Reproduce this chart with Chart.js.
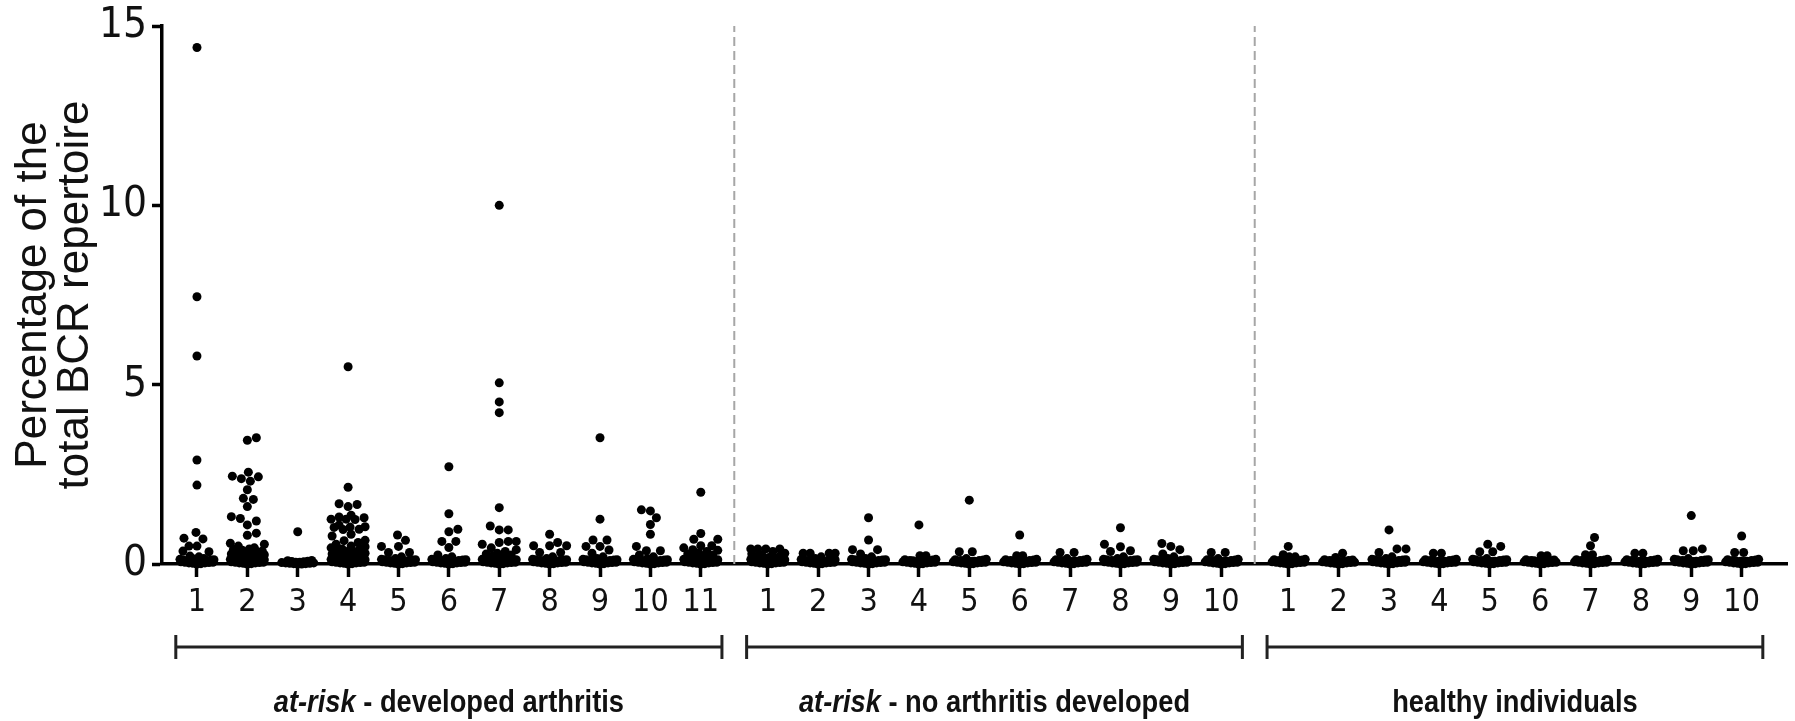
<!DOCTYPE html>
<html>
<head>
<meta charset="utf-8">
<script src="https://cdn.jsdelivr.net/npm/chart.js@4.4.1/dist/chart.umd.min.js"></script>
<style>
  html, body { margin: 0; padding: 0; background: #fff; }
</style>
</head>
<body>
<canvas id="bcrChart" width="1795" height="721"></canvas>
<script>
// -------------------------------
// Data (percentage of total BCR repertoire per clone, per subject)
// -------------------------------
const developedArthritis = [
  [14.4, 7.45, 5.8, 2.9, 2.2, 0.88, 0.72, 0.7, 0.5, 0.5, 0.36, 0.34, 0.22, 0.2, 0.15, 0.14, 0.13, 0.12, 0.12, 0.11, 0.1, 0.1, 0.09, 0.08, 0.08, 0.07, 0.06, 0.05, 0.05, 0.04, 0.03, 0.03, 0.02, 0.01, 0.0],
  [3.52, 3.45, 2.56, 2.45, 2.43, 2.38, 2.31, 2.07, 1.83, 1.8, 1.6, 1.32, 1.27, 1.2, 1.09, 0.86, 0.8, 0.58, 0.55, 0.5, 0.45, 0.42, 0.4, 0.38, 0.36, 0.34, 0.33, 0.3, 0.3, 0.28, 0.26, 0.25, 0.22, 0.2, 0.18, 0.15, 0.14, 0.13, 0.12, 0.12, 0.11, 0.1, 0.1, 0.09, 0.08, 0.08, 0.07, 0.06, 0.05, 0.05, 0.04, 0.03, 0.03, 0.02, 0.01, 0.0],
  [0.9, 0.1, 0.09, 0.08, 0.07, 0.06, 0.05, 0.05, 0.04, 0.03, 0.03, 0.02, 0.02, 0.01, 0.01, 0.0, 0.0],
  [5.5, 2.14, 1.68, 1.66, 1.6, 1.36, 1.31, 1.29, 1.25, 1.25, 1.24, 1.09, 1.04, 1.03, 1.02, 0.97, 0.96, 0.83, 0.78, 0.66, 0.65, 0.6, 0.55, 0.5, 0.48, 0.45, 0.42, 0.4, 0.38, 0.35, 0.33, 0.3, 0.28, 0.25, 0.22, 0.2, 0.18, 0.15, 0.14, 0.13, 0.12, 0.12, 0.11, 0.1, 0.1, 0.09, 0.08, 0.08, 0.07, 0.06, 0.05, 0.05, 0.04, 0.03, 0.03, 0.02, 0.01, 0.0],
  [0.81, 0.66, 0.49, 0.49, 0.32, 0.32, 0.2, 0.15, 0.13, 0.12, 0.12, 0.11, 0.1, 0.1, 0.09, 0.08, 0.08, 0.07, 0.06, 0.05, 0.05, 0.04, 0.03, 0.03, 0.02, 0.01, 0.0],
  [2.71, 1.4, 0.97, 0.9, 0.63, 0.63, 0.46, 0.25, 0.2, 0.15, 0.13, 0.12, 0.12, 0.11, 0.1, 0.1, 0.09, 0.08, 0.08, 0.07, 0.06, 0.05, 0.05, 0.04, 0.03, 0.03, 0.02, 0.01, 0.0],
  [10.0, 5.05, 4.52, 4.22, 1.57, 1.06, 0.95, 0.95, 0.63, 0.63, 0.6, 0.55, 0.45, 0.4, 0.35, 0.3, 0.28, 0.25, 0.22, 0.2, 0.15, 0.14, 0.13, 0.12, 0.12, 0.11, 0.1, 0.1, 0.09, 0.08, 0.08, 0.07, 0.06, 0.05, 0.05, 0.04, 0.03, 0.03, 0.02, 0.01, 0.0],
  [0.83, 0.6, 0.51, 0.51, 0.51, 0.32, 0.32, 0.2, 0.15, 0.13, 0.12, 0.12, 0.11, 0.1, 0.1, 0.09, 0.08, 0.08, 0.07, 0.06, 0.05, 0.05, 0.04, 0.03, 0.03, 0.02, 0.01, 0.0],
  [3.52, 1.25, 0.67, 0.67, 0.49, 0.49, 0.39, 0.3, 0.2, 0.15, 0.13, 0.12, 0.12, 0.11, 0.1, 0.1, 0.09, 0.08, 0.08, 0.07, 0.06, 0.05, 0.05, 0.04, 0.03, 0.03, 0.02, 0.01, 0.0],
  [1.51, 1.48, 1.29, 1.1, 0.83, 0.49, 0.37, 0.37, 0.25, 0.2, 0.15, 0.13, 0.12, 0.12, 0.11, 0.1, 0.1, 0.09, 0.08, 0.08, 0.07, 0.06, 0.05, 0.05, 0.04, 0.03, 0.03, 0.02, 0.01, 0.0],
  [2.0, 0.85, 0.69, 0.69, 0.51, 0.51, 0.45, 0.4, 0.38, 0.35, 0.3, 0.28, 0.25, 0.22, 0.2, 0.15, 0.14, 0.13, 0.12, 0.12, 0.11, 0.1, 0.1, 0.09, 0.08, 0.08, 0.07, 0.06, 0.05, 0.05, 0.04, 0.03, 0.03, 0.02, 0.01, 0.0]
];

const noArthritis = [
  [0.42, 0.42, 0.42, 0.42, 0.35, 0.3, 0.28, 0.25, 0.22, 0.2, 0.18, 0.15, 0.14, 0.13, 0.12, 0.12, 0.11, 0.1, 0.1, 0.09, 0.08, 0.08, 0.07, 0.06, 0.05, 0.05, 0.04, 0.03, 0.03, 0.02, 0.01, 0.0],
  [0.3, 0.3, 0.3, 0.3, 0.2, 0.15, 0.13, 0.12, 0.12, 0.11, 0.1, 0.1, 0.09, 0.08, 0.08, 0.07, 0.06, 0.05, 0.05, 0.04, 0.03, 0.03, 0.02, 0.01, 0.0],
  [1.29, 0.67, 0.4, 0.4, 0.28, 0.2, 0.15, 0.13, 0.12, 0.12, 0.11, 0.1, 0.1, 0.09, 0.08, 0.08, 0.07, 0.06, 0.05, 0.05, 0.04, 0.03, 0.03, 0.02, 0.01, 0.0],
  [1.09, 0.23, 0.23, 0.13, 0.12, 0.11, 0.1, 0.1, 0.09, 0.08, 0.08, 0.07, 0.06, 0.05, 0.05, 0.04, 0.03, 0.03, 0.02, 0.01, 0.0],
  [1.78, 0.34, 0.34, 0.15, 0.13, 0.12, 0.11, 0.1, 0.1, 0.09, 0.08, 0.08, 0.07, 0.06, 0.05, 0.05, 0.04, 0.03, 0.03, 0.02, 0.01, 0.0],
  [0.81, 0.23, 0.23, 0.13, 0.12, 0.11, 0.1, 0.1, 0.09, 0.08, 0.08, 0.07, 0.06, 0.05, 0.05, 0.04, 0.03, 0.03, 0.02, 0.01, 0.0],
  [0.32, 0.32, 0.15, 0.13, 0.12, 0.11, 0.1, 0.1, 0.09, 0.08, 0.08, 0.07, 0.06, 0.05, 0.05, 0.04, 0.03, 0.03, 0.02, 0.01, 0.0],
  [1.01, 0.55, 0.48, 0.37, 0.35, 0.2, 0.15, 0.13, 0.12, 0.12, 0.11, 0.1, 0.1, 0.09, 0.08, 0.08, 0.07, 0.06, 0.05, 0.05, 0.04, 0.03, 0.03, 0.02, 0.01, 0.0],
  [0.57, 0.49, 0.4, 0.28, 0.2, 0.15, 0.13, 0.12, 0.12, 0.11, 0.1, 0.1, 0.09, 0.08, 0.08, 0.07, 0.06, 0.05, 0.05, 0.04, 0.03, 0.03, 0.02, 0.01, 0.0],
  [0.32, 0.32, 0.15, 0.13, 0.12, 0.11, 0.1, 0.1, 0.09, 0.08, 0.08, 0.07, 0.06, 0.05, 0.05, 0.04, 0.03, 0.03, 0.02, 0.01, 0.0]
];

const healthy = [
  [0.49, 0.26, 0.2, 0.2, 0.13, 0.12, 0.11, 0.1, 0.1, 0.09, 0.08, 0.08, 0.07, 0.06, 0.05, 0.05, 0.04, 0.03, 0.03, 0.02, 0.01, 0.0],
  [0.3, 0.18, 0.12, 0.11, 0.1, 0.1, 0.09, 0.08, 0.08, 0.07, 0.06, 0.05, 0.05, 0.04, 0.03, 0.03, 0.02, 0.01, 0.0],
  [0.95, 0.42, 0.42, 0.32, 0.2, 0.15, 0.13, 0.12, 0.12, 0.11, 0.1, 0.1, 0.09, 0.08, 0.08, 0.07, 0.06, 0.05, 0.05, 0.04, 0.03, 0.03, 0.02, 0.01, 0.0],
  [0.3, 0.3, 0.13, 0.12, 0.11, 0.1, 0.1, 0.09, 0.08, 0.08, 0.07, 0.06, 0.05, 0.05, 0.04, 0.03, 0.03, 0.02, 0.01, 0.0],
  [0.55, 0.49, 0.34, 0.34, 0.15, 0.13, 0.12, 0.12, 0.11, 0.1, 0.1, 0.09, 0.08, 0.08, 0.07, 0.06, 0.05, 0.05, 0.04, 0.03, 0.03, 0.02, 0.01, 0.0],
  [0.23, 0.23, 0.12, 0.11, 0.1, 0.1, 0.09, 0.08, 0.08, 0.07, 0.06, 0.05, 0.05, 0.04, 0.03, 0.03, 0.02, 0.01, 0.0],
  [0.74, 0.51, 0.26, 0.26, 0.13, 0.12, 0.11, 0.1, 0.1, 0.09, 0.08, 0.08, 0.07, 0.06, 0.05, 0.05, 0.04, 0.03, 0.03, 0.02, 0.01, 0.0],
  [0.3, 0.3, 0.13, 0.12, 0.11, 0.1, 0.1, 0.09, 0.08, 0.08, 0.07, 0.06, 0.05, 0.05, 0.04, 0.03, 0.03, 0.02, 0.01, 0.0],
  [1.35, 0.42, 0.37, 0.37, 0.15, 0.13, 0.12, 0.12, 0.11, 0.1, 0.1, 0.09, 0.08, 0.08, 0.07, 0.06, 0.05, 0.05, 0.04, 0.03, 0.03, 0.02, 0.01, 0.0],
  [0.78, 0.32, 0.32, 0.13, 0.12, 0.11, 0.1, 0.1, 0.09, 0.08, 0.08, 0.07, 0.06, 0.05, 0.05, 0.04, 0.03, 0.03, 0.02, 0.01, 0.0]
];

const ticksArthritis = ['1', '2', '3', '4', '5', '6', '7', '8', '9', '10', '11'];
const ticksNoArthritis = ['1', '2', '3', '4', '5', '6', '7', '8', '9', '10'];
const ticksHealthy = ['1', '2', '3', '4', '5', '6', '7', '8', '9', '10'];

const groupItalic = ['at-risk', 'at-risk', ''];
const groupText = [' - developed arthritis', ' - no arthritis developed', 'healthy individuals'];

const yTicks = [0, 5, 10, 15];
const yTitle = ['Percentage of the', 'total BCR repertoire'];

// -------------------------------
// Layout helpers
// -------------------------------
const groups = [developedArthritis, noArthritis, healthy];
const tickLabels = [...ticksArthritis, ...ticksNoArthritis, ...ticksHealthy];
const GAP = 1.33;          // extra space between groups (column units)
const DOT_R = 4.5;
const SWARM_HALF = 17;     // max horizontal spread of a column (px)

const groupX = [];
let pos = 1;
groups.forEach(g => {
  const xs = g.map((_, i) => pos + i);
  groupX.push(xs);
  pos = xs[xs.length - 1] + GAP;
});
const tickPositions = groupX.flat();
const dividers = [0, 1].map(i => (groupX[i][groupX[i].length - 1] + groupX[i + 1][0]) / 2);

const FONT_NARROW = '"Liberation Sans Narrow", "DejaVu Sans Condensed", "Liberation Sans", sans-serif';
const FONT_MAIN = '"Liberation Sans", Arial, sans-serif';

// -------------------------------
// Brackets + group names under the axis
// -------------------------------
const groupAnnotations = {
  id: 'groupAnnotations',
  afterDraw(chart) {
    const { ctx, scales: { x } } = chart;
    const yLine = 647;
    ctx.save();
    ctx.strokeStyle = '#222';
    ctx.fillStyle = '#111';
    ctx.lineWidth = 3;
    groupX.forEach((xs, gi) => {
      const x0 = x.getPixelForValue(xs[0] - 0.42);
      const x1 = x.getPixelForValue(xs[xs.length - 1] + 0.42);
      ctx.beginPath();
      ctx.moveTo(x0, yLine); ctx.lineTo(x1, yLine);
      ctx.moveTo(x0, yLine - 12); ctx.lineTo(x0, yLine + 12);
      ctx.moveTo(x1, yLine - 12); ctx.lineTo(x1, yLine + 12);
      ctx.stroke();

      // slightly condensed bold label, centred under the bracket
      const fItalic = 'italic bold 31px ' + FONT_MAIN;
      const fBold = 'bold 31px ' + FONT_MAIN;
      const sx = 0.88;
      ctx.font = fItalic;
      const w1 = ctx.measureText(groupItalic[gi]).width;
      ctx.font = fBold;
      const w2 = ctx.measureText(groupText[gi]).width;
      ctx.save();
      ctx.translate((x0 + x1) / 2 - (w1 + w2) * sx / 2, 712);
      ctx.scale(sx, 1);
      ctx.textBaseline = 'alphabetic';
      ctx.textAlign = 'left';
      ctx.font = fItalic;
      ctx.fillText(groupItalic[gi], 0, 0);
      ctx.font = fBold;
      ctx.fillText(groupText[gi], w1, 0);
      ctx.restore();
    });
    ctx.restore();
  }
};

// -------------------------------
// Chart
// -------------------------------
const ctx = document.getElementById('bcrChart').getContext('2d');

const chart = new Chart(ctx, {
  type: 'scatter',
  data: {
    datasets: [
      {
        data: [],
        backgroundColor: '#000',
        borderWidth: 0,
        pointRadius: DOT_R,
        pointHoverRadius: DOT_R,
        clip: false,
        order: 1
      },
      ...dividers.map(d => ({
        type: 'line',
        data: [{ x: d, y: 0 }, { x: d, y: 15 }],
        borderColor: '#a6a6a6',
        borderWidth: 2,
        borderDash: [9, 5],
        pointRadius: 0,
        order: 2
      }))
    ]
  },
  options: {
    responsive: false,
    animation: false,
    devicePixelRatio: 1,
    layout: { padding: { top: 23, right: 8, left: 0, bottom: 0 } },
    plugins: { legend: { display: false }, tooltip: { enabled: false } },
    scales: {
      x: {
        type: 'linear',
        min: tickPositions[0] - 0.694,
        max: tickPositions[tickPositions.length - 1] + 0.9,
        afterBuildTicks: s => { s.ticks = tickPositions.map(v => ({ value: v })); },
        afterFit: s => { s.height = 157; },
        ticks: {
          autoSkip: false,
          maxRotation: 0,
          padding: 10,
          color: '#111',
          font: { family: FONT_NARROW, size: 32, lineHeight: 1 },
          callback: (v, i) => tickLabels[i]
        },
        grid: {
          drawOnChartArea: false,
          drawTicks: true,
          tickLength: 13,
          tickWidth: 3.5,
          tickColor: '#000'
        },
        border: { display: true, color: '#000', width: 3.5 }
      },
      y: {
        min: 0,
        max: 15,
        afterBuildTicks: s => { s.ticks = yTicks.map(v => ({ value: v })); },
        afterFit: s => { s.width = 162; },
        ticks: {
          padding: 5,
          color: '#111',
          font: { family: FONT_NARROW, size: 42, lineHeight: 1 }
        },
        grid: {
          drawOnChartArea: false,
          drawTicks: true,
          tickLength: 10,
          tickWidth: 3.5,
          tickColor: '#000'
        },
        border: { display: true, color: '#000', width: 3.5 },
        title: {
          display: true,
          text: yTitle,
          color: '#111',
          font: { family: FONT_MAIN, size: 44, lineHeight: '42px' },
          padding: { top: 13, bottom: 0 }
        }
      }
    }
  },
  plugins: [groupAnnotations]
});

// -------------------------------
// Beeswarm placement (pixel-space, then back to data values)
// small clones are allowed to overlap so they merge into a solid block
// -------------------------------
const xs = chart.scales.x, ys = chart.scales.y;
const points = [];
groups.forEach((g, gi) => {
  g.forEach((vals, si) => {
    const cx = xs.getPixelForValue(groupX[gi][si]);
    const placed = [];
    [...vals].sort((a, b) => a - b).forEach(v => {
      const py = ys.getPixelForValue(v);
      const need = v < 0.15 ? 4 : DOT_R * 2;
      let best = 0, bestD = -1;
      for (let k = 0; k <= SWARM_HALF * 2; k++) {
        const dx = (k % 2 ? 1 : -1) * Math.ceil(k / 2);
        let minD = Infinity;
        placed.forEach(p => {
          const d = Math.hypot(p.x - (cx + dx), p.y - py);
          if (d < minD) minD = d;
        });
        if (minD >= need) { best = dx; bestD = Infinity; break; }
        if (minD > bestD) { bestD = minD; best = dx; }
      }
      placed.push({ x: cx + best, y: py });
      points.push({ x: xs.getValueForPixel(cx + best), y: v });
    });
  });
});
chart.data.datasets[0].data = points;
chart.update();
</script>
</body>
</html>
